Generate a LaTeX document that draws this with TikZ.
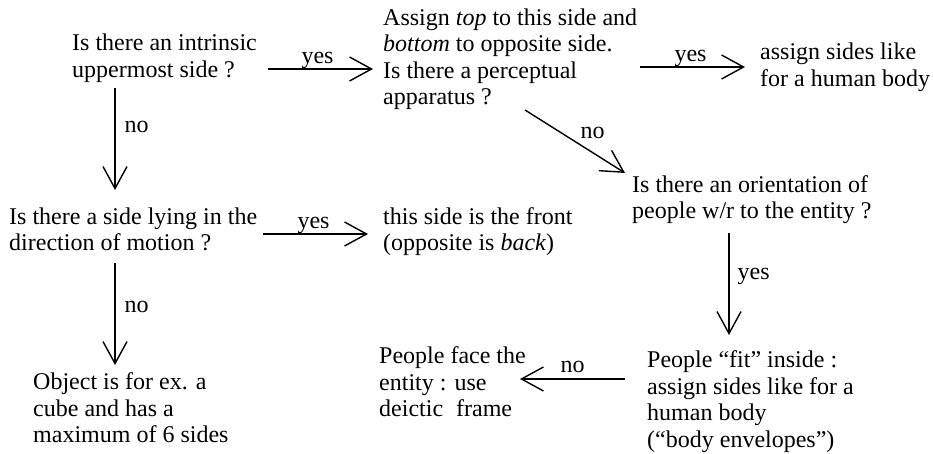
\documentclass[tikz,border=0pt]{standalone}
\usepackage{fontspec}
\setmainfont{Liberation Serif}
\usetikzlibrary{arrows.meta}
\newcommand\mlines[1]{\begin{tabular}[t]{@{}l@{}}#1\end{tabular}}
\begin{document}
\begin{tikzpicture}[x=1pt,y=-1pt,
  txt/.style={anchor=base west,inner sep=0pt,font=\fontsize{24}{26.5}\selectfont},
  lbl/.style={inner sep=0pt,font=\fontsize{24}{26.5}\selectfont},
  conn/.style={-{Straight Barb[length=22pt,width=24pt]},line width=1.4pt}]
\useasboundingbox (0,0) rectangle (933,454);
% nodes
\node[txt] (n1) at (72,51) {\mlines{Is there an intrinsic\\uppermost side ?}};
\node[txt] (n2) at (383,25.5) {\mlines{Assign \textit{top} to this side and\\\textit{bottom} to opposite side.\\Is there a perceptual\\apparatus ?}};
\node[txt] (n9) at (760,60) {\mlines{assign sides like\\for a human body}};
\node[txt] (n3) at (9,224.5) {\mlines{Is there a side lying in the\\direction of motion ?}};
\node[txt] (n5) at (383,224.5) {\mlines{this side is the front\\(opposite is \textit{back})}};
\node[txt] (n4) at (632,192.5) {\mlines{Is there an orientation of\\people w/r to the entity ?}};
\node[txt] (n7) at (379,363.5) {\mlines{People face the\\entity : use\\deictic\hspace{13pt}frame}};
\node[txt] (n6) at (647,367.5) {\mlines{People “fit” inside :\\assign sides like for a\\human body\\(“body envelopes”)}};
\node[txt] (n8) at (33,389.5) {\mlines{Object is for ex. a\\cube and has a\\maximum of 6 sides}};
% connector ends
\coordinate (a1) at (268,69);  \coordinate (b1) at (373,69);
\coordinate (a2) at (640,67);  \coordinate (b2) at (745,67);
\coordinate (a3) at (525,110); \coordinate (b3) at (625,173);
\coordinate (a4) at (115,88);  \coordinate (b4) at (115,190);
\coordinate (a5) at (263,234); \coordinate (b5) at (368,234);
\coordinate (a6) at (729,233); \coordinate (b6) at (729,335);
\coordinate (a7) at (115,263); \coordinate (b7) at (115,365);
\coordinate (a8) at (625,379); \coordinate (b8) at (520,379);
% connectors
\draw[conn] (a1) -- node[lbl,midway,anchor=base,yshift=5pt,xshift=-3pt] (l1) {yes} (b1);
\draw[conn] (a2) -- node[lbl,midway,anchor=base,yshift=5pt,xshift=-2pt] (l2) {yes} (b2);
\draw[conn] (a3) -- node[lbl,pos=0.55,anchor=base west,yshift=6pt] (l3) {no} (b3);
\draw[conn] (a4) -- node[lbl,pos=0.38,anchor=west,xshift=9pt] (l4) {no} (b4);
\draw[conn] (a5) -- node[lbl,midway,anchor=base,yshift=5pt,xshift=-2pt] (l5) {yes} (b5);
\draw[conn] (a6) -- node[lbl,pos=0.43,anchor=west,xshift=8pt] (l6) {yes} (b6);
\draw[conn] (a7) -- node[lbl,pos=0.43,anchor=west,xshift=9pt] (l7) {no} (b7);
\draw[conn] (a8) -- node[lbl,midway,anchor=base,yshift=7pt] (l8) {no} (b8);
\end{tikzpicture}
\end{document}
